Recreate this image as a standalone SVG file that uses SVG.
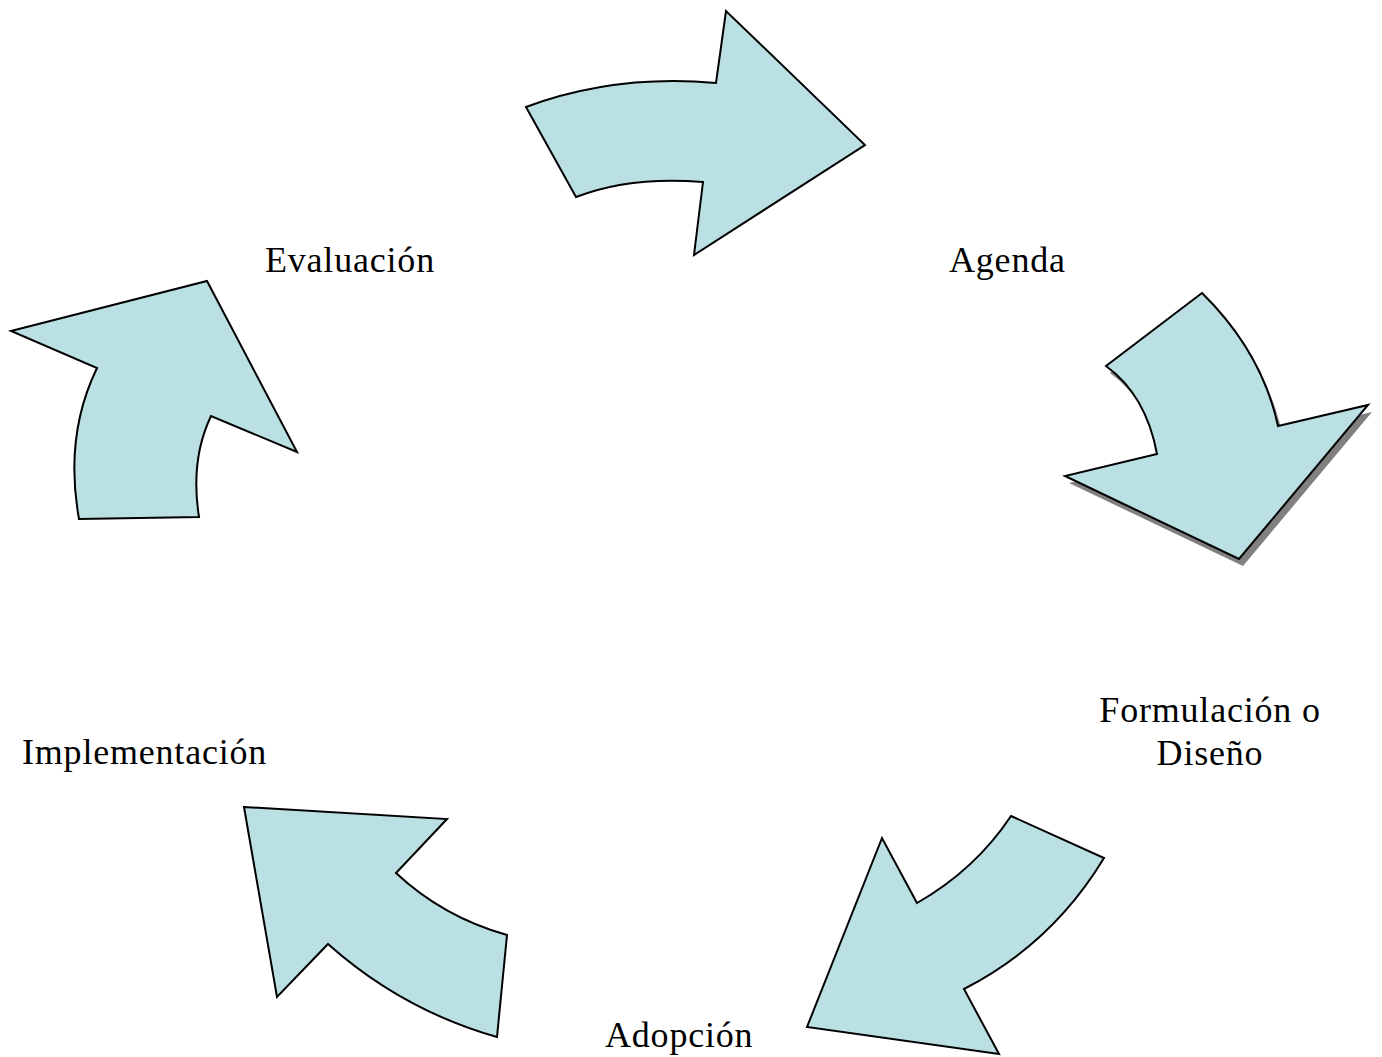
<svg xmlns="http://www.w3.org/2000/svg" width="1382" height="1057" viewBox="0 0 1382 1057">
<style>
.arrow{fill:#bae0e3;stroke:#000;stroke-width:2;stroke-linejoin:miter}
.shadow{fill:#808080}
text{font-family:"Liberation Serif","Times New Roman",serif;font-size:36px;letter-spacing:0.8px;fill:#000}
</style>
<rect width="1382" height="1057" fill="#fff"/>
<g id="connectors">
<g id="arrow-top">
<path class="arrow" d="M526,107 Q615,74 716,83 L726,11 L865,145 L694,255 L703,182 Q630,176 576,197 Z"/>
</g>
<g id="arrow-right">
<path class="shadow" transform="translate(4,7)" d="M1202,293 Q1262,352 1278,426 L1368,405 L1239,559 L1065,476 L1157,454 Q1146,395 1106,366 Z"/>
<path class="arrow" d="M1202,293 Q1262,352 1278,426 L1368,405 L1239,559 L1065,476 L1157,454 Q1146,395 1106,366 Z"/>
</g>
<g id="arrow-bottom-right">
<path class="arrow" d="M1011,816 L1104,858 Q1052,944 964,989 L999,1054 L807,1027 L882,838 L917,903 Q975,870 1011,816 Z"/>
</g>
<g id="arrow-bottom-left">
<path class="arrow" d="M244,807 L447,819 L396,873 Q443,917 507,935 L497,1037 Q402,1010 328,944 L277,997 Z"/>
</g>
<g id="arrow-left">
<path class="arrow" d="M11,331 L207,281 L297,452 L211,416 Q190,460 199,517 L79,519 Q64,436 97,368 Z"/>
</g>
</g>
<g id="node-evaluacion"><text x="265" y="272">Evaluación</text></g>
<g id="node-agenda"><text x="949" y="272">Agenda</text></g>
<g id="node-formulacion"><text x="1210" y="722" text-anchor="middle">Formulación o</text><text x="1210" y="765" text-anchor="middle">Diseño</text></g>
<g id="node-implementacion"><text x="22" y="764">Implementación</text></g>
<g id="node-adopcion"><text x="605" y="1047">Adopción</text></g>
</svg>
